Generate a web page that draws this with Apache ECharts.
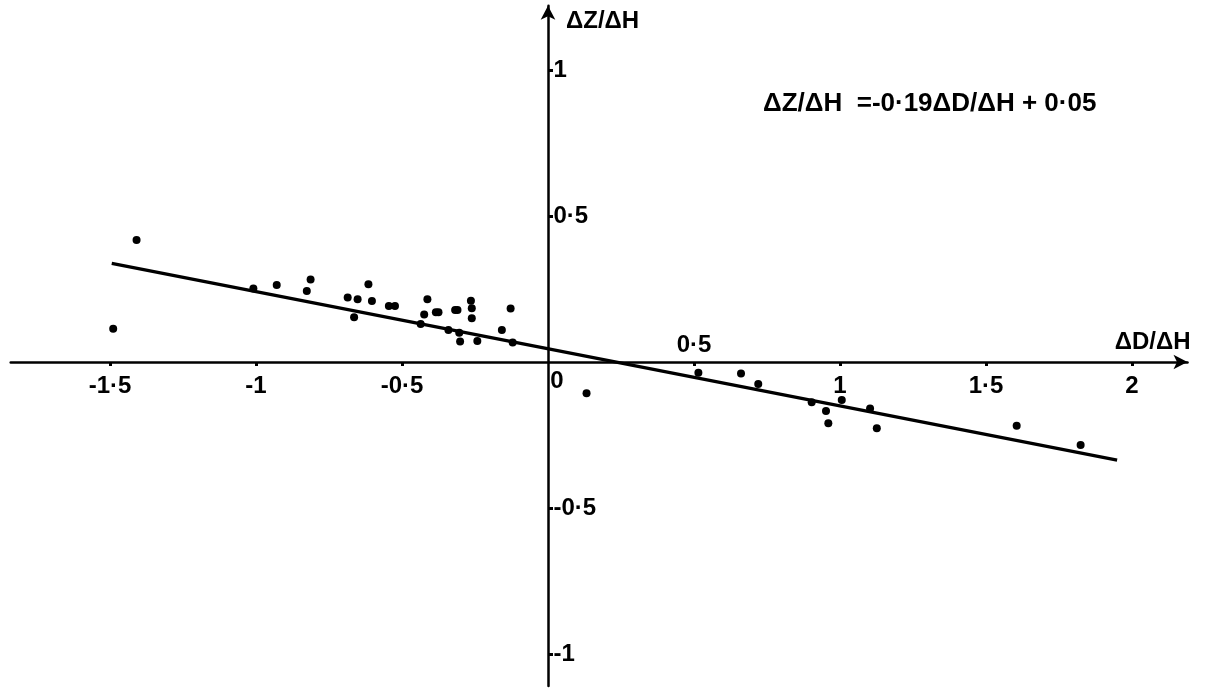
<!DOCTYPE html>
<html>
<head>
<meta charset="utf-8">
<script src="https://cdn.jsdelivr.net/npm/echarts@6/dist/echarts.min.js"></script>
<style>html,body{margin:0;padding:0;background:#fff;}#c{width:1208px;height:688px;}</style>
</head>
<body>
<div id="c"></div>
<script>
// ---- data ----
const xTickLabelsBelow = [-1.5, -1, -0.5, 1, 1.5, 2];
const xTickLabelsAbove = [0.5];
const xTicks = [-1.5, -1, -0.5, 0.5, 1, 1.5, 2];
const yTicks = [-1, -0.5, 0.5, 1];
const originLabel = [0];
const pointsX = [-1.409, -1.489, -1.009, -0.929, -0.813, -0.826, -0.686, -0.652, -0.615, -0.603,
  -0.664, -0.545, -0.524, -0.413, -0.424, -0.436, -0.384, -0.375, -0.318, -0.310,
  -0.341, -0.304, -0.301, -0.264, -0.261, -0.261, -0.242, -0.128, -0.158, -0.121,
  0.132, 0.515, 0.661, 0.720, 0.903, 0.952, 0.960, 1.006, 1.103, 1.126, 1.605, 1.824];
const pointsY = [0.418, 0.114, 0.252, 0.264, 0.283, 0.243, 0.221, 0.215, 0.266, 0.209,
  0.153, 0.192, 0.192, 0.215, 0.163, 0.130, 0.170, 0.170, 0.178, 0.178,
  0.110, 0.100, 0.070, 0.210, 0.184, 0.150, 0.072, 0.183, 0.110, 0.067,
  -0.107, -0.037, -0.039, -0.075, -0.138, -0.168, -0.210, -0.130, -0.159, -0.227, -0.218, -0.284];
const fitX = [-1.494, 1.949];
const fitY = [0.338, -0.336];
const equationText = 'ΔZ/ΔH  =-0·19ΔD/ΔH + 0·05';
const xName = 'ΔD/ΔH';
const yName = 'ΔZ/ΔH';

const FONT = 'Liberation Sans';
const fmt = v => String(v).replace('.', '·');
const txt = {color: '#000', fontFamily: FONT, fontWeight: 'bold', fontSize: 24};
function labelSeries(data, pos, distance, offset) {
  return {
    type: 'scatter', data: data, symbolSize: 1, silent: true,
    itemStyle: {color: 'rgba(0,0,0,0)', opacity: 1},
    label: Object.assign({show: true, position: pos, distance: distance, offset: offset,
      formatter: p => fmt(p.data[2])}, txt),
    z: 5
  };
}
const chart = echarts.init(document.getElementById('c'));
chart.setOption({
  animation: false,
  backgroundColor: '#fff',
  title: {
    text: equationText, left: 758, top: 86,
    textStyle: {fontFamily: FONT, fontWeight: 'bold', fontSize: 26, color: '#000'}
  },
  grid: {left: 10.7, right: 20.5, top: 5.8, bottom: 1.9},
  xAxis: {
    type: 'value', min: -1.84, max: 2.19,
    splitLine: {show: false},
    axisLine: {onZero: true, symbol: ['none', 'arrow'], symbolSize: [11, 14], lineStyle: {color: '#000', width: 2.5}},
    axisTick: {show: true, customValues: xTicks, length: 4, inside: false, lineStyle: {color: '#000', width: 3}},
    axisLabel: {show: false},
    name: xName, nameLocation: 'end', nameGap: 3,
    nameTextStyle: Object.assign({align: 'right', verticalAlign: 'bottom', padding: [0, 0, 8, 0]}, txt)
  },
  yAxis: {
    type: 'value', min: -1.11, max: 1.22,
    splitLine: {show: false},
    axisLine: {onZero: true, symbol: ['none', 'arrow'], symbolSize: [11, 14], lineStyle: {color: '#000', width: 2.5}},
    axisTick: {show: true, customValues: yTicks, length: 5, inside: true, lineStyle: {color: '#000', width: 3}},
    axisLabel: {show: false},
    name: yName, nameLocation: 'end', nameGap: -16,
    nameTextStyle: Object.assign({align: 'left', verticalAlign: 'middle', padding: [0, 0, 0, 18]}, txt)
  },
  series: [
    {
      type: 'line', data: fitX.map((x, i) => [x, fitY[i]]), symbol: 'none',
      lineStyle: {color: '#000', width: 3.2}, z: 3
    },
    {
      type: 'scatter', data: pointsX.map((x, i) => [x, pointsY[i]]), symbol: 'circle', symbolSize: 8,
      itemStyle: {color: '#000', opacity: 1}, z: 4
    },
    labelSeries(xTickLabelsBelow.map(v => [v, 0, v]), 'bottom', 12, [0, 0]),
    labelSeries(xTickLabelsAbove.map(v => [v, 0, v]), 'top', 4, [0, 0]),
    labelSeries(originLabel.map(v => [v, 0, v]), 'bottom', 7, [9, 0]),
    labelSeries(yTicks.map(v => [0, v, v]), 'right', 5, [0, 0])
  ]
});
</script>
</body>
</html>
